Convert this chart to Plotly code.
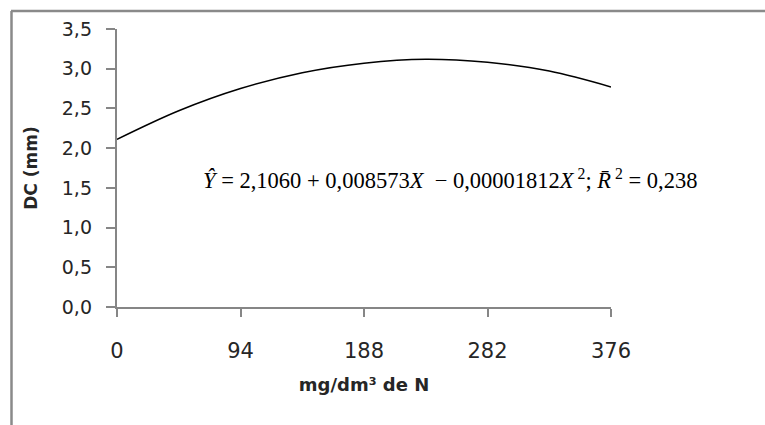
import plotly.graph_objects as go

# Data
x_vals = [0, 47, 94, 141, 188, 235, 282, 329, 376]
y_vals = [2.11, 2.47, 2.75, 2.95, 3.07, 3.12, 3.08, 2.97, 2.77]
x_ticks = [0, 94, 188, 282, 376]
x_tick_labels = ["0", "94", "188", "282", "376"]
y_ticks = [0, 0.5, 1.0, 1.5, 2.0, 2.5, 3.0, 3.5]
y_tick_labels = ["0,0", "0,5", "1,0", "1,5", "2,0", "2,5", "3,0", "3,5"]
x_title = "<b>mg/dm³ de N</b>"
y_title = "<b>DC (mm)</b>"
equation = ("<i>Ŷ</i> = 2,1060 + 0,008573<i>X</i>  − 0,00001812<i>X</i><sup> 2</sup>; "
            "<i>R̄</i><sup> 2</sup> = 0,238")

W, H = 765, 425
L, R, T, B = 40, 154, 29, 118      # margins (paper area)
PLOT_LEFT = 117                     # pixel where the plotting area starts
LABEL_AXIS_PX = 92                  # pixel of the (invisible) label axis
pw, ph = W - L - R, H - T - B
axis_col = "#868686"
font_fam = "'DejaVu Sans', sans-serif"
text_col = "#262626"

def px_to_paper_x(px):
    return (px - L) / pw

def px_to_paper_y(py):
    return (H - B - py) / ph

fig = go.Figure()
fig.add_trace(go.Scatter(x=x_vals, y=y_vals, mode="lines",
                         line=dict(color="black", width=1.5, shape="spline"),
                         showlegend=False, hoverinfo="skip"))
fig.add_trace(go.Scatter(x=x_vals, y=y_vals, mode="lines", yaxis="y2", opacity=0,
                         showlegend=False, hoverinfo="skip"))

fig.update_layout(
    width=W, height=H,
    margin=dict(l=L, r=R, t=T, b=B, pad=0),
    paper_bgcolor="white", plot_bgcolor="white",
    font=dict(family=font_fam, size=17, color=text_col),
    xaxis=dict(domain=[px_to_paper_x(PLOT_LEFT), 1],
               range=[0, 376], tickmode="array", tickvals=x_ticks, ticktext=x_tick_labels,
               showgrid=False, zeroline=False, showline=True, linecolor=axis_col, linewidth=1.5,
               ticks="outside", ticklen=8, tickcolor=axis_col, tickwidth=1.5,
               ticklabelstandoff=16, tickfont=dict(size=21, color=text_col),
               title=dict(text=x_title, font=dict(size=18, color=text_col), standoff=16)),
    yaxis=dict(range=[0, 3.5], tickmode="array", tickvals=y_ticks,
               showticklabels=False,
               showgrid=False, zeroline=False, showline=True, linecolor=axis_col, linewidth=1.5,
               ticks="outside", ticklen=9, tickcolor=axis_col, tickwidth=1.5),
    yaxis2=dict(range=[0, 3.5], overlaying="y", anchor="free", side="left",
                position=px_to_paper_x(LABEL_AXIS_PX),
                tickmode="array", tickvals=y_ticks, ticktext=y_tick_labels,
                showgrid=False, zeroline=False, showline=False, ticks="",
                tickfont=dict(size=19, color=text_col),
                title=dict(text=y_title, font=dict(size=17, color=text_col), standoff=18)),
)

border_col = "#8a8a8a"
fig.add_shape(type="line", xref="paper", yref="paper",
              x0=px_to_paper_x(11), x1=px_to_paper_x(W + 5),
              y0=px_to_paper_y(11), y1=px_to_paper_y(11),
              line=dict(color=border_col, width=2.5))
fig.add_shape(type="line", xref="paper", yref="paper",
              x0=px_to_paper_x(11.5), x1=px_to_paper_x(11.5),
              y0=px_to_paper_y(11), y1=px_to_paper_y(H + 5),
              line=dict(color=border_col, width=2.5))

fig.add_annotation(text=equation, x=px_to_paper_x(450), y=px_to_paper_y(179),
                   xref="paper", yref="paper", showarrow=False,
                   xanchor="center", yanchor="middle",
                   font=dict(family="'Liberation Serif', 'Times New Roman', serif", size=22.5, color="black"))

fig.write_html("out.html")
